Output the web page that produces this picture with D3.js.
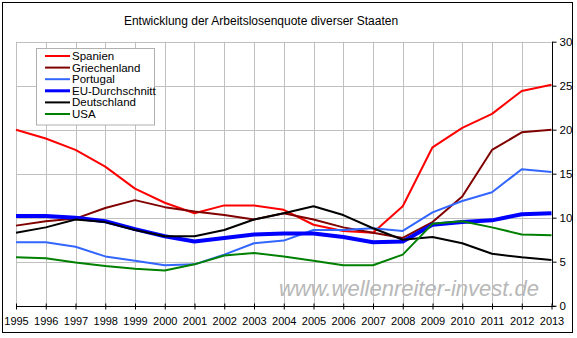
<!DOCTYPE html>
<html><head><meta charset="utf-8">
<script src="https://cdn.jsdelivr.net/npm/d3@7"></script>
<style>body{margin:0;background:#fff}svg{display:block}text{font-family:"Liberation Sans",Arial,sans-serif}</style>
</head><body><svg id="c" width="577" height="338"></svg>
<script>
const years = d3.range(1995, 2014);
const yTicks = [0, 5, 10, 15, 20, 25, 30];
const seriesNames = ["Spanien", "Griechenland", "Portugal", "EU-Durchschnitt", "Deutschland", "USA"];
const spanien      = [20.0, 19.0, 17.7, 15.8, 13.3, 11.7, 10.5, 11.4, 11.4, 10.9, 9.2, 8.5, 8.3, 11.3, 18.0, 20.2, 21.8, 24.4, 25.1];
const griechenland = [9.1, 9.6, 9.9, 11.1, 12.0, 11.2, 10.7, 10.3, 9.8, 10.5, 9.8, 8.9, 8.3, 7.7, 9.5, 12.4, 17.7, 19.7, 20.0];
const portugal     = [7.2, 7.2, 6.7, 5.6, 5.1, 4.6, 4.7, 5.8, 7.1, 7.4, 8.6, 8.6, 8.8, 8.5, 10.6, 11.9, 12.9, 15.5, 15.2];
const eu           = [10.2, 10.2, 10.0, 9.6, 8.7, 7.9, 7.3, 7.7, 8.1, 8.2, 8.2, 7.8, 7.2, 7.3, 9.2, 9.5, 9.7, 10.4, 10.5];
const deutschland  = [8.3, 8.9, 9.8, 9.5, 8.6, 7.9, 7.9, 8.6, 9.8, 10.5, 11.3, 10.3, 8.8, 7.5, 7.8, 7.1, 5.9, 5.5, 5.2];
const usa          = [5.5, 5.4, 4.9, 4.5, 4.2, 4.0, 4.7, 5.7, 6.0, 5.6, 5.1, 4.6, 4.6, 5.8, 9.3, 9.6, 8.9, 8.1, 8.0];
const seriesValues = [spanien, griechenland, portugal, eu, deutschland, usa];
const seriesColors = ["#ff0000", "#800000", "#3366ff", "#0000ff", "#000000", "#008000"];
const seriesWidths = [2, 2, 2, 4, 2, 2];

const svg = d3.select("#c");
const x = d3.scaleLinear().domain([1995, 2013]).range([16, 551.5]);
const y = d3.scaleLinear().domain([0, 30]).range([305.7, 41.7]);

// frame
svg.append("rect").attr("x", 2.5).attr("y", 2.5).attr("width", 570).attr("height", 330)
  .attr("fill", "#fff").attr("stroke", "#000").attr("stroke-width", 1);

// title
svg.append("text").attr("x", 261).attr("y", 25).attr("text-anchor", "middle")
  .attr("font-size", 12).attr("fill", "#000").text("Entwicklung der Arbeitslosenquote diverser Staaten");

// grid
const g = svg.append("g");
g.selectAll(".vg").data(years).join("line")
  .attr("x1", d => Math.round(x(d)) + 0.5).attr("x2", d => Math.round(x(d)) + 0.5)
  .attr("y1", y(30)).attr("y2", y(0)).attr("stroke", "#c0c0c0").attr("stroke-width", 1);
g.selectAll(".hg").data(yTicks).join("line")
  .attr("x1", x(1995)).attr("x2", x(2013))
  .attr("y1", d => Math.round(y(d)) + 0.5).attr("y2", d => Math.round(y(d)) + 0.5)
  .attr("stroke", "#c0c0c0").attr("stroke-width", 1);

// watermark
svg.append("text").attr("x", 539).attr("y", 296).attr("text-anchor", "end")
  .attr("font-size", 22).attr("font-style", "italic").attr("fill", "#b8b8b8")
  .text("www.wellenreiter-invest.de");

// lines
const line = d3.line().x((d, i) => x(years[i])).y(d => y(d));
seriesValues.forEach((vals, k) => {
  svg.append("path").datum(vals).attr("d", line).attr("fill", "none")
    .attr("stroke", seriesColors[k]).attr("stroke-width", seriesWidths[k])
    .attr("stroke-linejoin", "round");
});

// axes
const xAxis = d3.axisBottom(x).tickValues(years).tickFormat(d3.format("d")).tickSize(3).tickPadding(8);
const xa = svg.append("g").attr("transform", `translate(0,${Math.round(y(0)) + 0.5})`).call(xAxis);
xa.select(".domain").attr("d", `M${x(1995)},0H${x(2013) + 4}`).attr("stroke", "#000");
xa.selectAll(".tick line").attr("y1", -3).attr("y2", 3).attr("stroke", "#000");
xa.selectAll("text").attr("font-size", 11).attr("fill", "#000").style("font-family", "Liberation Sans, Arial");

const yAxis = d3.axisRight(y).tickValues(yTicks).tickSize(4).tickPadding(3);
const ya = svg.append("g").attr("transform", `translate(${Math.round(x(2013)) + 0.5},0)`).call(yAxis);
ya.select(".domain").attr("d", `M0,${y(30)}V${y(0)}`).attr("stroke", "#000");
ya.selectAll(".tick line").attr("stroke", "#000");
ya.selectAll("text").attr("font-size", 11.5).attr("fill", "#000").style("font-family", "Liberation Sans, Arial");

// legend
const lg = svg.append("g");
lg.append("rect").attr("x", 36.5).attr("y", 48.5).attr("width", 118).attr("height", 76.5)
  .attr("fill", "#fff").attr("stroke", "#b0b0b0");
seriesNames.forEach((name, k) => {
  const yy = 56 + k * 11.6;
  lg.append("line").attr("x1", 45).attr("x2", 70).attr("y1", yy).attr("y2", yy)
    .attr("stroke", seriesColors[k]).attr("stroke-width", seriesWidths[k] === 4 ? 3 : 2);
  lg.append("text").attr("x", 72).attr("y", yy + 4).attr("font-size", 11.5).attr("fill", "#000").text(name);
});
</script></body></html>
